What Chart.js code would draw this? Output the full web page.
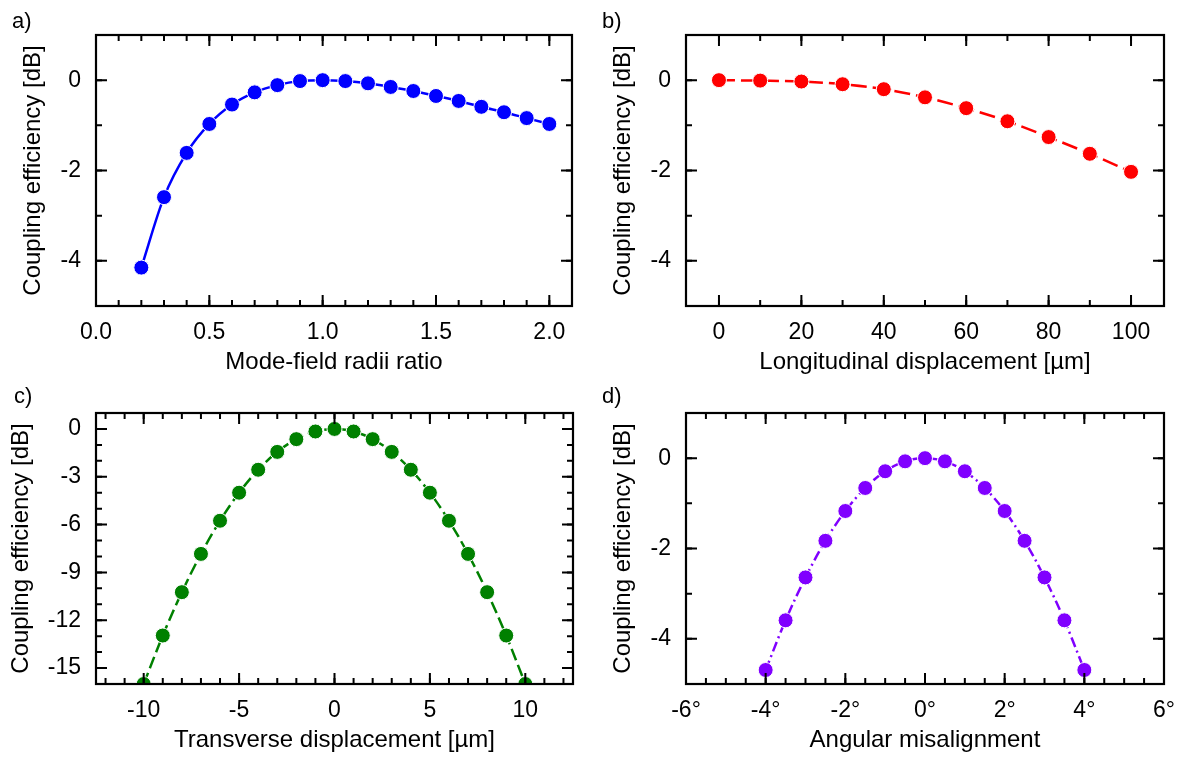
<!DOCTYPE html>
<html>
<head>
<meta charset="utf-8">
<script src="https://cdn.jsdelivr.net/npm/chart.js@4.4.1/dist/chart.umd.min.js"></script>
<style>
  body { margin: 0; background: #fff; }
  #wrap { position: relative; width: 1178px; height: 758px; background: #fff; }
  .panel { position: absolute; }
  .tag { position: absolute; font: 22px "Liberation Sans", Arial, sans-serif; color: #000; line-height: 1; }
</style>
</head>
<body>
<div id="wrap">
  <canvas id="chartA" class="panel" width="589" height="380" style="left:0;top:0"></canvas>
  <canvas id="chartB" class="panel" width="589" height="380" style="left:589px;top:0"></canvas>
  <canvas id="chartC" class="panel" width="589" height="378" style="left:0;top:380px"></canvas>
  <canvas id="chartD" class="panel" width="589" height="378" style="left:589px;top:380px"></canvas>
  <div class="tag" style="left:12px;top:10px">a)</div>
  <div class="tag" style="left:602px;top:10px">b)</div>
  <div class="tag" style="left:14px;top:385px">c)</div>
  <div class="tag" style="left:602px;top:385px">d)</div>
</div>
<script>
// a) 모드필드 반경 비
const aX = [0.2, 0.3, 0.4, 0.5, 0.6, 0.7, 0.8, 0.9, 1.0, 1.1, 1.2, 1.3, 1.4, 1.5, 1.6, 1.7, 1.8, 1.9, 2.0];
const aY = [-4.15, -2.59, -1.61, -0.97, -0.54, -0.27, -0.11, -0.02, 0, -0.02, -0.07, -0.15, -0.24, -0.35, -0.46, -0.59, -0.71, -0.84, -0.97];
const aXTicks = [0, 0.5, 1, 1.5, 2];
const aYTicks = [0, -2, -4];

// b) 축방향 변위
const bX = [0, 10, 20, 30, 40, 50, 60, 70, 80, 90, 100];
const bY = [0, -0.01, -0.03, -0.09, -0.2, -0.38, -0.62, -0.91, -1.26, -1.63, -2.03];
const bXTicks = [0, 20, 40, 60, 80, 100];
const bYTicks = [0, -2, -4];

// c) 횡방향 변위
const cX = [-10, -9, -8, -7, -6, -5, -4, -3, -2, -1, 0, 1, 2, 3, 4, 5, 6, 7, 8, 9, 10];
const cY = [-16, -12.96, -10.24, -7.84, -5.76, -4.0, -2.56, -1.44, -0.64, -0.16, 0, -0.16, -0.64, -1.44, -2.56, -4.0, -5.76, -7.84, -10.24, -12.96, -16];
const cXTicks = [-10, -5, 0, 5, 10];
const cYTicks = [0, -3, -6, -9, -12, -15];

// d) 각도 오차
const dX = [-4, -3.5, -3, -2.5, -2, -1.5, -1, -0.5, 0, 0.5, 1, 1.5, 2, 2.5, 3, 3.5, 4];
const dY = [-4.69, -3.59, -2.64, -1.83, -1.17, -0.66, -0.29, -0.07, 0, -0.07, -0.29, -0.66, -1.17, -1.83, -2.64, -3.59, -4.69];
const dXTicks = [-6, -4, -2, 0, 2, 4, 6];
const dYTicks = [0, -2, -4];

const FONT = '"Liberation Sans", Arial, sans-serif';
Chart.defaults.color = '#000';
Chart.defaults.font.family = FONT;

// 안쪽으로 향한 눈금 + 테두리
const frameTicks = {
    id: 'frameTicks',
    afterDraw(chart, args, opts) {
        const { ctx, chartArea: area, scales } = chart;
        const xs = scales.x, ys = scales.y;
        const steps = (min, max, step) => {
            const out = [];
            for (let v = Math.ceil(min / step - 1e-9) * step; v <= max + 1e-9; v += step) {
                out.push(+v.toFixed(6));
            }
            return out;
        };
        ctx.save();
        ctx.strokeStyle = '#000';
        // x 눈금
        const drawX = (vals, len, w) => {
            ctx.lineWidth = w;
            vals.forEach(v => {
                const px = xs.getPixelForValue(v);
                if (px <= area.left + 1 || px >= area.right - 1) return;
                ctx.beginPath();
                ctx.moveTo(px, area.bottom); ctx.lineTo(px, area.bottom - len);
                ctx.moveTo(px, area.top); ctx.lineTo(px, area.top + len);
                ctx.stroke();
            });
        };
        // y 눈금
        const drawY = (vals, len, w) => {
            ctx.lineWidth = w;
            vals.forEach(v => {
                const py = ys.getPixelForValue(v);
                if (py <= area.top + 1 || py >= area.bottom - 1) return;
                ctx.beginPath();
                ctx.moveTo(area.left, py); ctx.lineTo(area.left + len, py);
                ctx.moveTo(area.right, py); ctx.lineTo(area.right - len, py);
                ctx.stroke();
            });
        };
        drawX(steps(xs.min, xs.max, opts.xMinor), 6, 2);
        drawX(opts.xMajor, 11, 2);
        drawY(steps(ys.min, ys.max, opts.yMinor), 6, 2);
        drawY(opts.yMajor, 11, 2);
        ctx.lineWidth = 2.2;
        ctx.strokeRect(area.left, area.top, area.right - area.left, area.bottom - area.top);
        ctx.restore();
    }
};

function makePanel(id, p) {
    const ctx = document.getElementById(id).getContext('2d');
    return new Chart(ctx, {
        type: 'line',
        data: {
            datasets: [{
                data: p.xs.map((x, i) => ({ x: x, y: p.ys[i] })),
                borderColor: p.color,
                backgroundColor: p.color,
                borderWidth: 2.5,
                borderDash: p.dash,
                cubicInterpolationMode: 'monotone',
                pointRadius: 7.5,
                pointBackgroundColor: p.color,
                pointBorderColor: '#fff',
                pointBorderWidth: 1,
                clip: 0
            }]
        },
        plugins: [frameTicks],
        options: {
            responsive: false,
            devicePixelRatio: 1,
            animation: false,
            layout: { padding: p.pad },
            plugins: {
                legend: { display: false },
                tooltip: { enabled: false },
                frameTicks: { xMajor: p.xTicks, yMajor: p.yTicks, xMinor: p.xMinor, yMinor: p.yMinor }
            },
            scales: {
                x: {
                    type: 'linear',
                    min: p.xRange[0], max: p.xRange[1],
                    grid: { display: false, drawTicks: false },
                    border: { display: false },
                    afterBuildTicks: s => { s.ticks = p.xTicks.map(v => ({ value: v })); },
                    afterFit: s => { s.height = 70.4; s.paddingLeft = 0; s.paddingRight = 0; },
                    ticks: {
                        padding: 13,
                        maxRotation: 0,
                        font: { size: 23 },
                        callback: p.xFmt
                    },
                    title: {
                        display: true,
                        text: p.xTitle,
                        padding: 0,
                        font: { size: 24 }
                    }
                },
                y: {
                    type: 'linear',
                    min: p.yRange[0], max: p.yRange[1],
                    grid: { display: false, drawTicks: false },
                    border: { display: false },
                    afterBuildTicks: s => { s.ticks = p.yTicks.map(v => ({ value: v })); },
                    afterFit: s => { s.width = p.yWidth; s.paddingTop = 0; s.paddingBottom = 0; },
                    ticks: {
                        padding: 15,
                        font: { size: 23 },
                        callback: v => String(v)
                    },
                    title: {
                        display: true,
                        text: 'Coupling efficiency [dB]',
                        padding: 0,
                        font: { size: 24 }
                    }
                }
            }
        }
    });
}

makePanel('chartA', {
    xs: aX, ys: aY, color: '#0000ff', dash: [],
    xRange: [0, 2.1], yRange: [-5, 1],
    xTicks: aXTicks, yTicks: aYTicks, xMinor: 0.1, yMinor: 1,
    xFmt: v => v.toFixed(1),
    xTitle: 'Mode-field radii ratio',
    pad: { left: 18.6, right: 17, top: 35, bottom: 3.6 }, yWidth: 77.4
});

makePanel('chartB', {
    xs: bX, ys: bY, color: '#ff0000', dash: [16, 6],
    xRange: [-8, 108], yRange: [-5, 1],
    xTicks: bXTicks, yTicks: bYTicks, xMinor: 10, yMinor: 1,
    xFmt: v => String(v),
    xTitle: 'Longitudinal displacement [µm]',
    pad: { left: 19.6, right: 14, top: 35, bottom: 3.6 }, yWidth: 77.4
});

makePanel('chartC', {
    xs: cX, ys: cY, color: '#008000', dash: [12, 5],
    xRange: [-12.5, 12.5], yRange: [-16, 1],
    xTicks: cXTicks, yTicks: cYTicks, xMinor: 1, yMinor: 1,
    xFmt: v => String(v),
    xTitle: 'Transverse displacement [µm]',
    pad: { left: 6.6, right: 16, top: 33, bottom: 3.6 }, yWidth: 89.4
});

makePanel('chartD', {
    xs: dX, ys: dY, color: '#8000ff', dash: [10, 4, 2, 4],
    xRange: [-6, 6], yRange: [-5, 1],
    xTicks: dXTicks, yTicks: dYTicks, xMinor: 0.5, yMinor: 1,
    xFmt: v => v + '°',
    xTitle: 'Angular misalignment',
    pad: { left: 19.6, right: 14, top: 33, bottom: 3.6 }, yWidth: 77.4
});
</script>
</body>
</html>
